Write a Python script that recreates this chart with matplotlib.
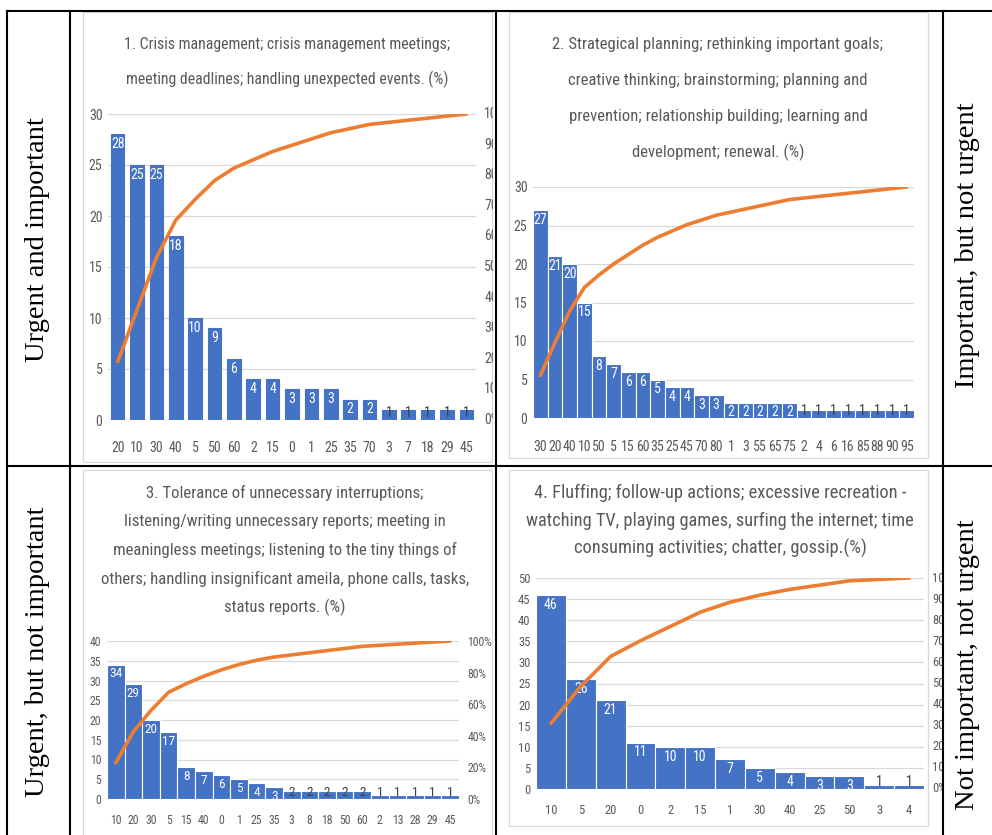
import numpy as np
import matplotlib
matplotlib.use("Agg")
import matplotlib.pyplot as plt
from matplotlib.lines import Line2D
from matplotlib.patches import Rectangle
from matplotlib.transforms import Bbox, TransformedBbox, ScaledTranslation

NARROW = ['Liberation Sans Narrow', 'Roboto Condensed', 'Liberation Sans', 'DejaVu Sans']
plt.rcParams['font.family'] = NARROW

BLUE = '#4472C4'
ORANGE = '#ED7D31'
GRID = '#D9D9D9'
TXT = '#595959'

# --- data ---
cats1 = ['20', '10', '30', '40', '5', '50', '60', '2', '15', '0', '1', '25', '35', '70',
         '3', '7', '18', '29', '45']
vals1 = [28, 25, 25, 18, 10, 9, 6, 4, 4, 3, 3, 3, 2, 2, 1, 1, 1, 1, 1]

cats2 = ['30', '20', '40', '10', '50', '5', '15', '60', '35', '25', '45', '70', '80', '1',
         '3', '55', '65', '75', '2', '4', '6', '16', '85', '88', '90', '95']
vals2 = [27, 21, 20, 15, 8, 7, 6, 6, 5, 4, 4, 3, 3, 2, 2, 2, 2, 2, 1, 1, 1, 1, 1, 1, 1, 1]

cats3 = ['10', '20', '30', '5', '15', '40', '0', '1', '25', '35', '3', '8', '18', '50',
         '60', '2', '13', '28', '29', '45']
vals3 = [34, 29, 20, 17, 8, 7, 6, 5, 4, 3, 2, 2, 2, 2, 2, 1, 1, 1, 1, 1]

cats4 = ['10', '5', '20', '0', '2', '15', '1', '30', '40', '25', '50', '3', '4']
vals4 = [46, 26, 21, 11, 10, 10, 7, 5, 4, 3, 3, 1, 1]

title1 = ['1. Crisis management; crisis management meetings;',
          'meeting deadlines; handling unexpected events. (%)']
title2 = ['2. Strategical planning; rethinking important goals;',
          'creative thinking; brainstorming; planning and',
          'prevention; relationship building; learning and',
          'development; renewal. (%)']
title3 = ['3. Tolerance of unnecessary interruptions;',
          'listening/writing unnecessary reports; meeting in',
          'meaningless meetings; listening to the tiny things of',
          'others; handling insignificant ameila, phone calls, tasks,',
          'status reports. (%)']
title4 = ['4. Fluffing; follow-up actions; excessive recreation -',
          'watching TV, playing games, surfing the internet; time',
          'consuming activities; chatter, gossip.(%)']

side_labels = ['Urgent and important', 'Urgent, but not important',
               'Important, but not urgent', 'Not important, not urgent']

W, H = 992, 835
fig = plt.figure(figsize=(W / 100, H / 100), dpi=100)
fig.patch.set_facecolor('white')


def frac(x0, y0, x1, y1):
    # pixel box (top-left origin) -> figure fraction [l, b, w, h]
    return [x0 / W, 1 - y1 / H, (x1 - x0) / W, (y1 - y0) / H]


def panel(x0, y0, x1, y1):
    fig.add_artist(Rectangle((x0 / W, 1 - y1 / H), (x1 - x0) / W, (y1 - y0) / H,
                             transform=fig.transFigure, facecolor='white',
                             edgecolor=GRID, lw=0.9, zorder=-1))


def title(lines, cx, y0, dy, size):
    for i, s in enumerate(lines):
        fig.text(cx / W, 1 - (y0 + i * dy) / H, s, ha='center', va='center',
                 fontsize=size, color=TXT)


def pareto(box, cats, vals, ymax, pstep, width, fs_tick, fs_lab, xpad,
           show_right=True, clip_x=None):
    ax = fig.add_axes(frac(*box))
    x = np.arange(len(vals))
    ax.bar(x, vals, width=width, color=BLUE,
           edgecolor='white' if width >= 1 else BLUE, linewidth=0.8, zorder=2)
    ax.set_xlim(-0.5, len(vals) - 0.5)
    ax.set_ylim(0, ymax)
    ax.set_yticks(np.arange(0, ymax + 1, 5))
    ax.grid(axis='y', color=GRID, lw=0.9)
    ax.set_axisbelow(True)
    ax.set_facecolor('none')
    for s in ax.spines.values():
        s.set_visible(False)
    ax.set_xticks(x, cats)
    ax.tick_params(length=0, labelsize=fs_tick, labelcolor=TXT)
    ax.tick_params(axis='x', pad=xpad)
    ax.tick_params(axis='y', pad=4)

    for xi, v in zip(x, vals):
        if v / ymax >= 0.055:
            ax.annotate(str(v), (xi, v), xytext=(0, -2), textcoords='offset points',
                        ha='center', va='top', color='white', fontsize=fs_lab)
        else:
            ax.annotate(str(v), (xi, 0), xytext=(0, 0), textcoords='offset points',
                        ha='center', va='bottom', color='#404040', fontsize=fs_lab)

    cum = np.cumsum(vals) / np.sum(vals) * 100
    ax2 = ax.twinx()
    ax2.plot(x, cum, color=ORANGE, lw=2.6, solid_capstyle='round')
    ax2.set_ylim(0, 100)
    pticks = np.arange(0, 101, pstep)
    ax2.set_yticks(pticks)
    ax2.yaxis.set_major_formatter(lambda v, p: f'{v:.0f}%')
    for s in ax2.spines.values():
        s.set_visible(False)
    ax2.tick_params(length=0, labelsize=fs_tick, labelcolor=TXT, pad=6)
    if not show_right or clip_x is not None:
        ax2.tick_params(labelright=False)
    if show_right and clip_x is not None:
        # percentage labels cut off at the cell border
        tr = ax2.get_yaxis_transform() + ScaledTranslation(6 / 72, 0, fig.dpi_scale_trans)
        cbox = TransformedBbox(Bbox.from_extents(0, 0, clip_x / W, 1), fig.transFigure)
        for p in pticks:
            t = fig.text(1, p, f'{p}%', transform=tr, ha='left', va='center',
                         fontsize=fs_tick, color=TXT, clip_on=True)
            t.set_clip_box(cbox)
    return ax


# chart frames
panel(83, 12, 492, 462)
panel(509, 12, 928, 458)
panel(83, 470, 492, 845)
panel(509, 470, 928, 826)

pareto((108, 114, 476, 420), cats1, vals1, 30, 10, 0.7, 10, 10, 15, clip_x=493)
pareto((533, 187, 914, 418), cats2, vals2, 30, 10, 1.0, 10, 10, 16, show_right=False)
pareto((107, 641, 459, 799), cats3, vals3, 40, 20, 1.0, 8.5, 9.5, 11)
pareto((536, 578, 924, 789), cats4, vals4, 50, 10, 1.0, 9, 10, 11, clip_x=942)

title(title1, 287, 45, 34, 11.4)
title(title2, 718, 44, 36, 12)
title(title3, 285, 493, 28.5, 12.1)
title(title4, 720, 493, 27.5, 13.2)


# table grid
def hline(y, x0, x1):
    fig.add_artist(Line2D([x0 / W, x1 / W], [1 - y / H, 1 - y / H],
                          transform=fig.transFigure, color='black', lw=1.5, zorder=6))


def vline(x, y0, y1):
    fig.add_artist(Line2D([x / W, x / W], [1 - y0 / H, 1 - y1 / H],
                          transform=fig.transFigure, color='black', lw=1.5, zorder=6))


hline(11, 7, 992)
hline(466, 7, 992)
for xv in (7, 70, 496, 943):
    vline(xv, 11, 835)

side_pos = [(38, 240), (38, 652), (968, 245), (968, 665)]
for s, (sx, sy) in zip(side_labels, side_pos):
    fig.text(sx / W, 1 - sy / H, s, rotation=90, ha='center', va='center',
             fontsize=20.5, family='Liberation Serif', color='black', zorder=7)

fig.savefig('out.png', dpi=100, facecolor='white')
